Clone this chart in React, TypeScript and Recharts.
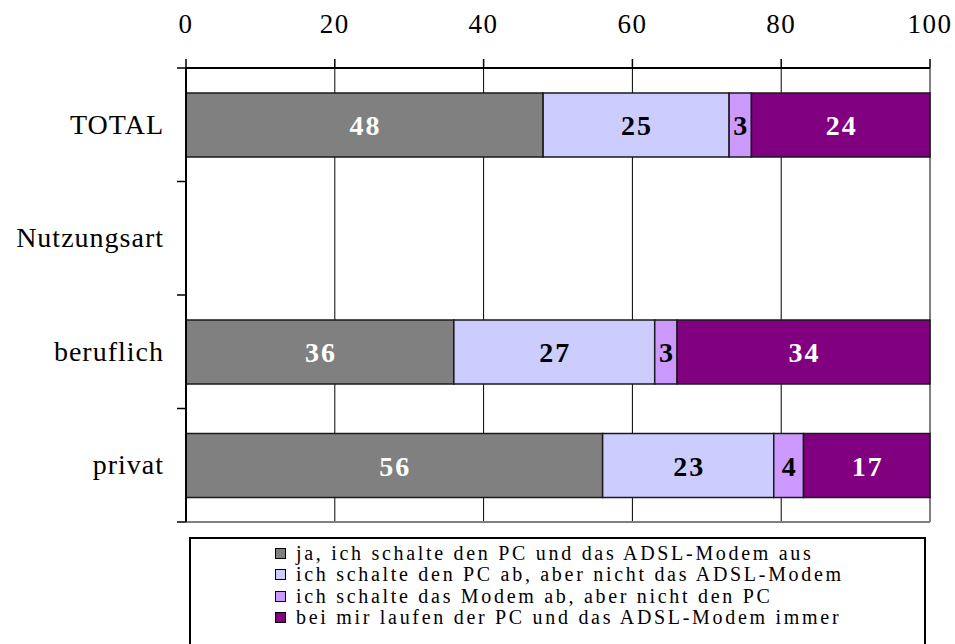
import { BarChart, Bar, XAxis, YAxis, CartesianGrid, LabelList } from "recharts";

const categories = ["TOTAL", "Nutzungsart", "beruflich", "privat"];
const jaAus = [48, null, 36, 56];
const pcAb = [25, null, 27, 23];
const modemAb = [3, null, 3, 4];
const immerAn = [24, null, 34, 17];
const xTicks = [0, 20, 40, 60, 80, 100];

const seriesKeys = ["jaAus", "pcAb", "modemAb", "immerAn"];
const seriesNames = [
  "ja, ich schalte den PC und das ADSL-Modem aus",
  "ich schalte den PC ab, aber nicht das ADSL-Modem",
  "ich schalte das Modem ab, aber nicht den PC",
  "bei mir laufen der PC und das ADSL-Modem immer",
];
const seriesColors = ["#808080", "#CCCCFF", "#CC99FF", "#800080"];
const labelColors = ["#ffffff", "#000000", "#000000", "#ffffff"];

const data = categories.map((name, i) => ({
  name,
  jaAus: jaAus[i],
  pcAb: pcAb[i],
  modemAb: modemAb[i],
  immerAn: immerAn[i],
}));

const FONT = '"Liberation Serif", "Times New Roman", Times, serif';
const W = 955;
const H = 644;
const MARGIN = { top: 0, right: 25, bottom: 122, left: 0 };
const bandFallback = (H - MARGIN.top - MARGIN.bottom - 68) / categories.length;

function CategoryTick(props: any) {
  const { x, y, payload, index } = props;
  const off = payload && payload.offset ? payload.offset : bandFallback / 2;
  const last = index === categories.length - 1;
  return (
    <g>
      <line x1={x - 9} x2={x} y1={y - off} y2={y - off} stroke="#000" strokeWidth={1.5} />
      {last && <line x1={x - 9} x2={x} y1={y + off} y2={y + off} stroke="#000" strokeWidth={1.5} />}
      <text
        x={x - 22}
        y={y}
        dy={9}
        textAnchor="end"
        fontFamily={FONT}
        fontSize={28}
        letterSpacing={1}
        fill="#000"
      >
        {payload.value}
      </text>
    </g>
  );
}

function makeLabel(color: string) {
  return (props: any) => {
    const { x, y, width, height, value } = props;
    if (value == null) return null;
    return (
      <text
        x={x + width / 2 + 1}
        y={y + height / 2}
        dy={10}
        textAnchor="middle"
        fontFamily={FONT}
        fontWeight="bold"
        fontSize={28}
        letterSpacing={2}
        fill={color}
      >
        {value}
      </text>
    );
  };
}

function LegendBox() {
  return (
    <div
      style={{
        position: "absolute",
        left: 189,
        top: 537,
        width: 737,
        height: 130,
        border: "2px solid #000",
        boxSizing: "border-box",
        paddingLeft: 84,
        paddingTop: 4,
        fontFamily: FONT,
        fontSize: 20,
        lineHeight: "21.3px",
        letterSpacing: 2.7,
        background: "#fff",
      }}
    >
      {seriesNames.map((n, i) => (
        <div key={n} style={{ display: "flex", alignItems: "center", height: 21.3, whiteSpace: "nowrap" }}>
          <span
            style={{
              width: 11,
              height: 11,
              border: "1.5px solid #000",
              boxSizing: "border-box",
              background: seriesColors[i],
              marginRight: 10,
              flexShrink: 0,
            }}
          />
          <span>{n}</span>
        </div>
      ))}
    </div>
  );
}

export default function App() {
  return (
    <div style={{ position: "absolute", left: 0, top: 0, width: W, height: H, overflow: "hidden", background: "#fff" }}>
      <BarChart width={W} height={H} data={data} layout="vertical" margin={MARGIN} barSize={64}>
        <CartesianGrid horizontal={false} stroke="#000" strokeWidth={1} />
        <CartesianGrid
          stroke="#808080"
          strokeWidth={2}
          verticalCoordinatesGenerator={({ offset }: any) => [offset.left + offset.width]}
          horizontalCoordinatesGenerator={({ offset }: any) => [offset.top + offset.height]}
        />
        <XAxis
          type="number"
          orientation="top"
          domain={[0, 100]}
          ticks={xTicks}
          height={68}
          tickSize={9}
          tickMargin={26}
          axisLine={{ stroke: "#000", strokeWidth: 2 }}
          tickLine={{ stroke: "#000", strokeWidth: 1.5 }}
          tick={{ fontFamily: FONT, fontSize: 27, fill: "#000", letterSpacing: 1.5 }}
          interval={0}
        />
        <YAxis
          type="category"
          dataKey="name"
          width={186}
          tickSize={0}
          tickMargin={0}
          tickLine={false}
          axisLine={{ stroke: "#000", strokeWidth: 2 }}
          tick={<CategoryTick />}
          interval={0}
        />
        {seriesKeys.map((k, i) => (
          <Bar
            key={k}
            dataKey={k}
            name={seriesNames[i]}
            stackId="a"
            fill={seriesColors[i]}
            stroke="#1a1a1a"
            strokeWidth={1.5}
            isAnimationActive={false}
          >
            <LabelList dataKey={k} content={makeLabel(labelColors[i])} />
          </Bar>
        ))}
      </BarChart>
      <LegendBox />
    </div>
  );
}
